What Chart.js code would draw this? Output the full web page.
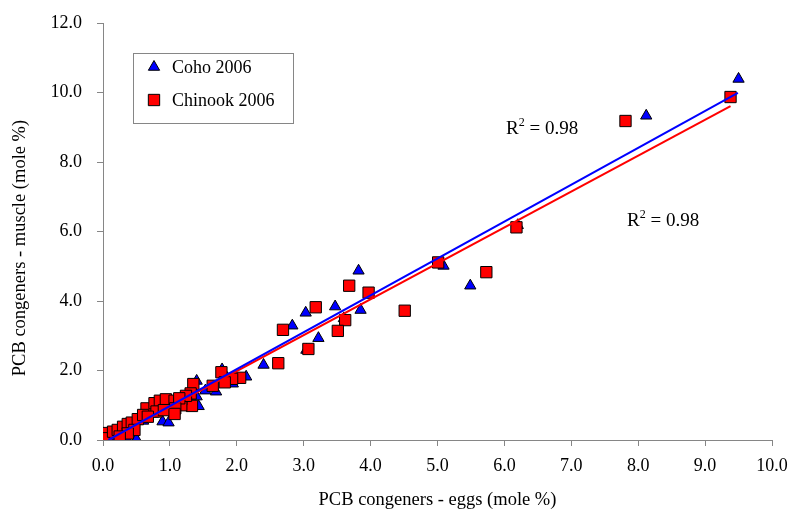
<!DOCTYPE html>
<html>
<head>
<meta charset="utf-8">
<script src="https://cdn.jsdelivr.net/npm/chart.js@4"></script>
<style>
  html, body { margin: 0; padding: 0; background: #fff; }
  #wrap { width: 790px; height: 512px; }
</style>
</head>
<body>
<div id="wrap"><canvas id="chart" width="790" height="512"></canvas></div>
<script>
// Coho 2006 (blue triangles): eggs x, muscle y (mole %)
const cohoX = [9.50, 8.12, 6.20, 5.09, 5.49, 3.82, 3.47, 3.85, 3.03, 2.83, 3.22, 3.04, 2.40, 2.14, 1.78, 1.94, 1.40, 1.53, 1.69, 1.40, 1.43, 0.89, 0.98, 0.50, 0.35, 0.10, 0.20, 0.30, 0.60, 0.75, 1.20, 0.90, 3.60];
const cohoY = [10.39, 9.33, 6.18, 5.01, 4.44, 4.87, 3.84, 3.74, 3.66, 3.29, 2.93, 2.59, 2.16, 1.82, 2.03, 1.62, 1.70, 1.42, 1.39, 1.25, 0.97, 0.53, 0.50, 0.02, 0.05, 0.05, 0.15, 0.30, 0.55, 0.75, 1.10, 0.95, 3.50];

// Chinook 2006 (red squares)
const chinookX = [9.38, 7.81, 6.18, 5.73, 5.01, 4.51, 3.97, 3.68, 3.62, 3.51, 3.18, 2.69, 3.07, 2.62, 2.05, 1.93, 1.77, 1.82, 1.64, 1.35, 1.33, 1.17, 1.17, 1.31, 1.24,
  0.02, 0.05, 0.15, 0.22, 0.30, 0.37, 0.43, 0.52, 0.65, 0.77, 0.85, 0.94, 1.07, 1.14, 0.80, 0.91, 1.08, 0.60, 0.67, 0.47, 0.37, 0.25, 1.07];
const chinookY = [9.87, 9.18, 6.12, 4.83, 5.11, 3.72, 4.24, 4.44, 3.45, 3.14, 3.82, 3.17, 2.62, 2.21, 1.79, 1.76, 1.95, 1.66, 1.56, 1.61, 0.98, 1.17, 1.00, 1.34, 1.27,
  0.20, 0.05, 0.24, 0.29, 0.38, 0.46, 0.50, 0.60, 0.91, 1.06, 1.13, 1.17, 1.13, 1.20, 0.82, 0.86, 0.91, 0.72, 0.67, 0.29, 0.19, 0.10, 0.75];

// linear trend line end points
const cohoFitX = [0.08, 9.49];
const cohoFitY = [0.00, 9.99];
const chinookFitX = [0.08, 9.38];
const chinookFitY = [0.00, 9.61];

const r2Labels = ["0.98", "0.98"];
const seriesNames = ["Coho 2006", "Chinook 2006"];
const xTitle = "PCB congeners - eggs (mole %)";
const yTitle = "PCB congeners - muscle (mole %)";

const xTicks = [0, 1, 2, 3, 4, 5, 6, 7, 8, 9, 10];
const yTicks = [0, 2, 4, 6, 8, 10, 12];

const FONT = "'Liberation Serif', 'Times New Roman', serif";
const AXIS_GREY = "#868686";

const toPoints = (xs, ys) => xs.map((x, i) => ({ x: x, y: ys[i] }));

// legend box, R² text and y title, drawn on top of the plot
const annotations = {
  id: "annotations",
  afterDraw(chart) {
    const ctx = chart.ctx;
    ctx.save();

    // y axis title (sits a bit below the plot middle in the original)
    ctx.save();
    ctx.translate(20, 248);
    ctx.rotate(-Math.PI / 2);
    ctx.fillStyle = "#000";
    ctx.font = "18.5px " + FONT;
    ctx.textAlign = "center";
    ctx.textBaseline = "middle";
    ctx.fillText(yTitle, 0, 0);
    ctx.restore();

    // legend
    ctx.strokeStyle = AXIS_GREY;
    ctx.lineWidth = 1;
    ctx.fillStyle = "#fff";
    ctx.fillRect(133.5, 53.5, 160, 70);
    ctx.strokeRect(133.5, 53.5, 160, 70);

    const styles = ["triangle", "rect"];
    const colors = ["#0000ff", "#ff0000"];
    const radii = [6.5, 8];
    const rowsY = [67, 100];
    for (let i = 0; i < 2; i++) {
      ctx.fillStyle = colors[i];
      ctx.strokeStyle = "#000";
      ctx.lineWidth = 1;
      Chart.helpers.drawPoint(ctx, { pointStyle: styles[i], radius: radii[i], borderWidth: 1, rotation: 0 }, 154, rowsY[i]);
      ctx.fillStyle = "#000";
      ctx.font = "18px " + FONT;
      ctx.textBaseline = "middle";
      ctx.textAlign = "left";
      ctx.fillText(seriesNames[i], 172, rowsY[i] + 1);
    }

    // R² labels
    const spots = [[506, 127], [627, 219]];
    spots.forEach(([x, y], i) => {
      ctx.fillStyle = "#000";
      ctx.textAlign = "left";
      ctx.textBaseline = "alphabetic";
      ctx.font = "19px " + FONT;
      ctx.fillText("R", x, y + 7);
      let w = ctx.measureText("R").width;
      ctx.font = "12px " + FONT;
      ctx.fillText("2", x + w, y - 1);
      w += ctx.measureText("2").width;
      ctx.font = "19px " + FONT;
      ctx.fillText(" = " + r2Labels[i], x + w, y + 7);
    });

    ctx.restore();
  }
};

new Chart(document.getElementById("chart"), {
  type: "scatter",
  data: {
    datasets: [
      {
        label: "Coho fit",
        type: "line",
        data: toPoints(cohoFitX, cohoFitY),
        borderColor: "#0000ff",
        borderWidth: 2,
        pointRadius: 0,
        fill: false,
        order: 0,
      },
      {
        label: "Chinook fit",
        type: "line",
        data: toPoints(chinookFitX, chinookFitY),
        borderColor: "#ff0000",
        borderWidth: 2,
        pointRadius: 0,
        fill: false,
        order: 1,
      },
      {
        label: seriesNames[1],
        data: toPoints(chinookX, chinookY),
        pointStyle: "rect",
        pointRadius: 8,
        backgroundColor: "#ff0000",
        borderColor: "#000",
        borderWidth: 1,
        order: 2,
      },
      {
        label: seriesNames[0],
        data: toPoints(cohoX, cohoY),
        pointStyle: "triangle",
        pointRadius: 6.5,
        backgroundColor: "#0000ff",
        borderColor: "#000",
        borderWidth: 1,
        order: 3,
      },
    ],
  },
  options: {
    responsive: false,
    animation: false,
    layout: { padding: { left: 0, top: 23, right: 18, bottom: 0 } },
    plugins: {
      legend: { display: false },
      tooltip: { enabled: false },
    },
    scales: {
      x: {
        type: "linear",
        min: 0,
        max: 10,
        afterBuildTicks: (scale) => { scale.ticks = xTicks.map((v) => ({ value: v })); },
        afterFit: (scale) => {
          scale.height = 72;
          scale.paddingLeft = 0;
          scale.paddingRight = 0;
        },
        ticks: {
          padding: 9,
          color: "#000",
          font: { family: FONT, size: 18 },
          maxRotation: 0,
          callback: (v) => Number(v).toFixed(1),
        },
        grid: { drawOnChartArea: false, tickLength: 6, color: AXIS_GREY },
        border: { color: AXIS_GREY, width: 1 },
        title: {
          display: true,
          text: xTitle,
          color: "#000",
          font: { family: FONT, size: 18.5 },
          padding: { top: 0, bottom: 1 },
        },
      },
      y: {
        type: "linear",
        min: 0,
        max: 12,
        afterBuildTicks: (scale) => { scale.ticks = yTicks.map((v) => ({ value: v })); },
        afterFit: (scale) => {
          scale.width = 103;
          scale.paddingTop = 0;
          scale.paddingBottom = 0;
        },
        ticks: {
          padding: 15,
          color: "#000",
          font: { family: FONT, size: 18 },
          callback: (v) => Number(v).toFixed(1),
        },
        grid: { drawOnChartArea: false, tickLength: 6, color: AXIS_GREY },
        border: { color: AXIS_GREY, width: 1 },
      },
    },
  },
  plugins: [annotations],
});
</script>
</body>
</html>
